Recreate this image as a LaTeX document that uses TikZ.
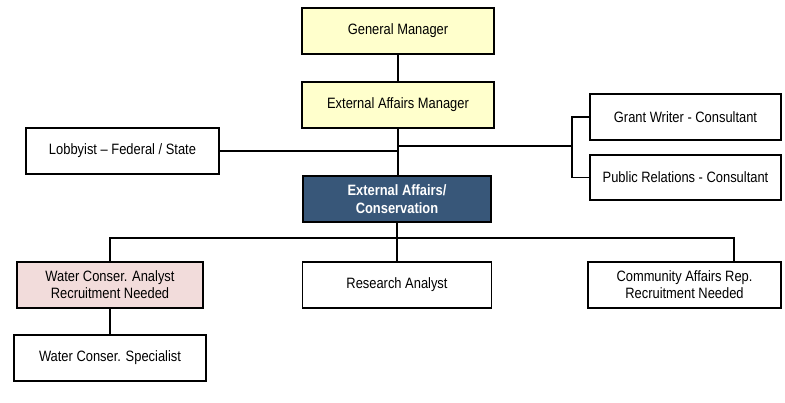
\documentclass[tikz,border=0pt]{standalone}
\usepackage{fontspec}
\setmainfont{Liberation Sans}[FakeStretch=0.86]
\begin{document}
\begin{tikzpicture}[x=1pt,y=-1pt,
  box/.style={draw=black, line width=1.6pt, rectangle, minimum height=46pt,
    align=center, inner sep=2pt, font=\fontsize{15}{17}\selectfont},
  mgr/.style={box, fill=mgryellow},
  unit/.style={box, fill=unitblue, text=white, font=\fontsize{15}{18}\selectfont\bfseries},
  vacant/.style={box, fill=vacantpink},
  link/.style={draw=black, line width=1.6pt}]
\definecolor{mgryellow}{HTML}{FFFFCC}
\definecolor{unitblue}{HTML}{385779}
\definecolor{vacantpink}{HTML}{F2DCDB}
\useasboundingbox (0,0) rectangle (785,402);

% management chain
\node[mgr, minimum width=192pt] (gm)  at (398,31)  {General Manager};
\node[mgr, minimum width=192pt] (eam) at (398,105) {External Affairs Manager};
\node[unit, minimum width=188pt] (eac) at (397,199) {External Affairs/\\Conservation};

% advisors
\node[box, minimum width=193pt] (lob) at (122.5,151) {Lobbyist -- Federal / State};
\node[box, minimum width=191pt] (gw)  at (685.5,117) {Grant Writer - Consultant};
\node[box, minimum width=191pt, minimum height=45pt] (pr) at (685.5,177.5) {Public Relations - Consultant};

% staff
\node[vacant, minimum width=186pt] (wca) at (110,285) {Water Conser. Analyst\\Recruitment Needed};
\node[box, minimum width=189pt] (ra)  at (397,285) {Research Analyst};
\node[box, minimum width=193pt] (ca)  at (684.5,285) {Community Affairs Rep.\\Recruitment Needed};
\node[box, minimum width=192pt] (wcs) at (110,358) {Water Conser. Specialist};

% junction points
\coordinate (jr)   at (398,146);
\coordinate (br)   at (572,146);
\coordinate (busL) at (110,238);
\coordinate (busR) at (734,238);

% connectors
\draw[link] (gm) -- (eam);
\draw[link] (eam.south) -- (eam.south |- eac.north);
\draw[link] (lob.east) -- (lob.east -| eam.south);
\draw[link] (jr) -- (br);
\draw[link] (gw.west) -| (br) |- (pr.west);
\draw[link] (eac.south) -- (eac.south |- ra.north);
\draw[link] (wca.north) -- (busL) -- (busR) -- (busR |- ca.north);
\draw[link] (wca) -- (wcs);
\end{tikzpicture}
\end{document}
